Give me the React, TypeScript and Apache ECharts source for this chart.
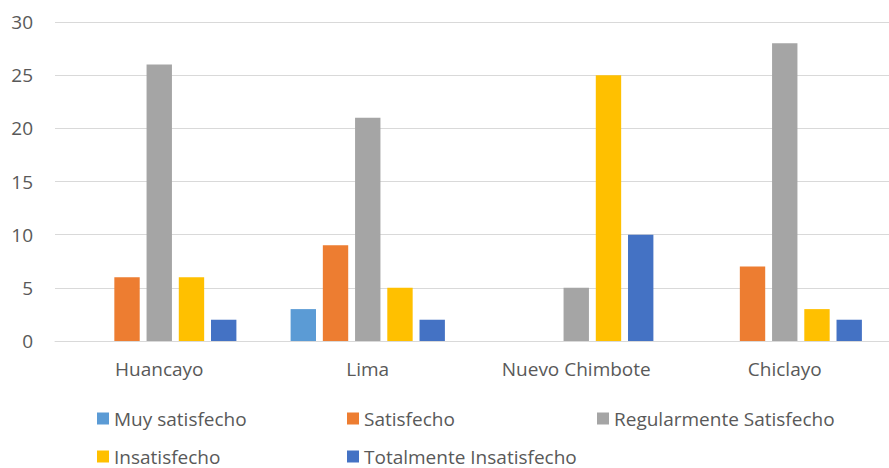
import React, { useEffect, useRef } from "react";
import * as echarts from "echarts";

const categories = ["Huancayo", "Lima", "Nuevo Chimbote", "Chiclayo"];
const seriesNames = [
  "Muy satisfecho",
  "Satisfecho",
  "Regularmente Satisfecho",
  "Insatisfecho",
  "Totalmente Insatisfecho",
];
const muySatisfecho = [0, 3, 0, 0];
const satisfecho = [6, 9, 0, 7];
const regularmente = [26, 21, 5, 28];
const insatisfecho = [6, 5, 25, 3];
const totalmente = [2, 2, 10, 2];
const colors = ["#5B9BD5", "#ED7D31", "#A5A5A5", "#FFC000", "#4472C4"];
const yTicks = { min: 0, max: 30, interval: 5 };

const FONT = "'Open Sans'";
const TEXT = "#595959";
const FS = 19;

export default function App() {
  const ref = useRef<HTMLDivElement>(null);
  useEffect(() => {
    if (!ref.current) return;
    const chart = echarts.init(ref.current, null, { renderer: "svg" });
    const values = [muySatisfecho, satisfecho, regularmente, insatisfecho, totalmente];
    const legendPos = [
      { left: 97, top: 409 },
      { left: 347, top: 409 },
      { left: 597, top: 409 },
      { left: 97, top: 447 },
      { left: 347, top: 447 },
    ];
    chart.setOption({
      animation: false,
      color: colors,
      textStyle: { fontFamily: FONT },
      grid: { left: 55, right: -10, top: 22, bottom: 127 },
      legend: seriesNames.map((n, i) => ({
        data: [n],
        left: legendPos[i].left,
        top: legendPos[i].top,
        icon: "rect",
        itemWidth: 12,
        itemHeight: 12,
        itemGap: 0,
        padding: 0,
        selectedMode: false,
        textStyle: { color: TEXT, fontSize: FS, fontFamily: FONT },
      })),
      xAxis: {
        type: "category",
        data: categories,
        axisLine: { lineStyle: { color: "#D9D9D9" } },
        axisTick: { show: false },
        axisLabel: { color: TEXT, fontSize: FS, fontFamily: FONT, margin: 18 },
      },
      yAxis: {
        type: "value",
        min: yTicks.min,
        max: yTicks.max,
        interval: yTicks.interval,
        axisLine: { show: false },
        axisTick: { show: false },
        splitLine: { lineStyle: { color: "#D9D9D9", width: 1 } },
        axisLabel: { color: TEXT, fontSize: FS, fontFamily: FONT, margin: 22 },
      },
      series: seriesNames.map((n, i) => ({
        name: n,
        type: "bar",
        data: values[i],
        barGap: "27%",
        barCategoryGap: "26%",
      })),
    });
    return () => chart.dispose();
  }, []);
  return <div ref={ref} style={{ width: 889, height: 468, position: "absolute", left: 0, top: 0 }} />;
}
